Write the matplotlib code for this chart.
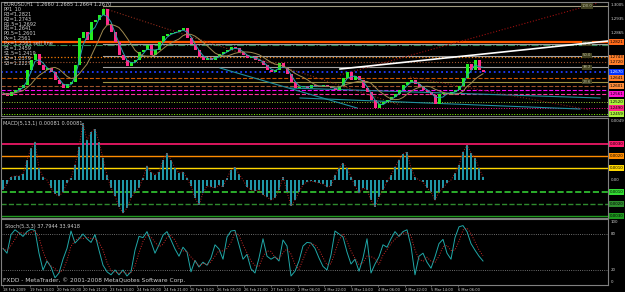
import matplotlib
matplotlib.use("Agg")
import matplotlib.pyplot as plt
import numpy as np
import pandas as pd

# ── Data ─────────────────────────────────────────────────────────────────────

CLOSES = [
    1.2565, 1.2550, 1.2570, 1.2580, 1.2590, 1.2605, 1.2680, 1.2730, 1.2760, 1.2705,
    1.2680, 1.2690, 1.2670, 1.2630, 1.2610, 1.2590, 1.2610, 1.2620, 1.2705, 1.2840,
    1.2870, 1.2830, 1.2920, 1.2930, 1.2955, 1.2985, 1.2905, 1.2870, 1.2820, 1.2755,
    1.2730, 1.2700, 1.2720, 1.2730, 1.2770, 1.2780, 1.2805, 1.2755, 1.2780, 1.2820,
    1.2850, 1.2860, 1.2865, 1.2870, 1.2880, 1.2890, 1.2840, 1.2810, 1.2780, 1.2745,
    1.2730, 1.2740, 1.2730, 1.2745, 1.2760, 1.2770, 1.2780, 1.2795, 1.2790, 1.2770,
    1.2755, 1.2740, 1.2745, 1.2730, 1.2725, 1.2705, 1.2680, 1.2670, 1.2680, 1.2715,
    1.2690, 1.2660, 1.2620, 1.2590, 1.2595, 1.2600, 1.2590, 1.2605, 1.2600, 1.2595,
    1.2605, 1.2595, 1.2590, 1.2580, 1.2600, 1.2640, 1.2670, 1.2630, 1.2650, 1.2630,
    1.2590, 1.2570, 1.2530, 1.2490, 1.2510, 1.2520, 1.2530, 1.2545, 1.2560, 1.2580,
    1.2605, 1.2620, 1.2630, 1.2610, 1.2595, 1.2580, 1.2570, 1.2555, 1.2510, 1.2560,
    1.2565, 1.2560, 1.2570, 1.2580, 1.2600, 1.2640, 1.2710, 1.2680, 1.2730, 1.2680,
    1.2670,
]

MACD = [
    -0.00083, -0.00033, 0.00025, 0.00033, 0.00033, 0.00050, 0.00167, 0.00267, 0.00317, 0.00100,
    0.00025, 0.00000, -0.00067, -0.00117, -0.00133, -0.00100, -0.00025, 0.00017, 0.00125, 0.00275,
    0.00475, 0.00333, 0.00400, 0.00425, 0.00317, 0.00183, 0.00042, -0.00067, -0.00133, -0.00225,
    -0.00275, -0.00233, -0.00150, -0.00100, -0.00067, 0.00017, 0.00117, 0.00067, 0.00042, 0.00067,
    0.00167, 0.00225, 0.00167, 0.00100, 0.00058, 0.00067, 0.00017, -0.00050, -0.00150, -0.00208,
    -0.00108, -0.00050, -0.00058, -0.00067, -0.00042, -0.00058, 0.00017, 0.00083, 0.00108, 0.00050,
    0.00000, -0.00058, -0.00083, -0.00092, -0.00083, -0.00125, -0.00142, -0.00167, -0.00150, -0.00083,
    0.00025, -0.00100, -0.00217, -0.00167, -0.00100, -0.00042, -0.00017, -0.00008, -0.00017, -0.00025,
    -0.00033, -0.00058, -0.00050, 0.00042, 0.00100, 0.00142, 0.00100, 0.00025, -0.00050, -0.00108,
    -0.00067, -0.00083, -0.00167, -0.00225, -0.00142, -0.00083, -0.00017, 0.00042, 0.00108, 0.00167,
    0.00217, 0.00233, 0.00100, 0.00025, 0.00000, -0.00017, -0.00067, -0.00100, -0.00167, -0.00100,
    -0.00067, -0.00025, 0.00000, 0.00058, 0.00125, 0.00233, 0.00292, 0.00225, 0.00183, 0.00100,
    0.00025,
]

STOCH = [
    56, 48, 79, 87, 82, 76, 84, 88, 86, 48,
    20, 35, 25, 7, 15, 38, 56, 85, 65, 72,
    80, 72, 66, 79, 53, 28, 17, 12, 20, 12,
    20, 10, 17, 53, 76, 74, 84, 67, 48, 62,
    78, 84, 70, 55, 43, 58, 50, 17, 36, 25,
    33, 28, 40, 62, 55, 38, 75, 85, 86, 62,
    38, 46, 22, 15, 40, 72, 43, 38, 42, 35,
    70, 60, 10, 18, 35, 60, 66, 65, 56, 40,
    26, 20, 45, 85, 80, 75, 50, 30, 38, 18,
    40, 72, 15, 30, 42, 62, 58, 72, 84, 76,
    84, 87, 60, 12, 43, 48, 33, 23, 42, 64,
    71, 48, 38, 74, 92, 94, 84, 64, 53, 43,
    35,
]

TIME_LABELS = [
    "18 Feb 2009", "19 Feb 13:00", "20 Feb 05:00", "20 Feb 21:00", "23 Feb 13:00",
    "24 Feb 05:00", "24 Feb 21:00", "25 Feb 13:00", "26 Feb 05:00", "26 Feb 21:00",
    "27 Feb 13:00", "2 Mar 06:00", "2 Mar 22:00", "3 Mar 14:00", "4 Mar 06:00",
    "4 Mar 22:00", "5 Mar 14:00", "6 Mar 06:00",
]
HOURS_PER_BAR = 2.39
LABEL_STEP_H = 16

PIVOT_TEXT = [
    "EURUSD,H1  1.2660 1.2685 1.2664 1.2670",
    "PP1_10",
    "R3=1.2821",
    "R2=1.2743",
    "R1.5=1.2692",
    "R1=1.2641",
    "P0.5=1.2601",
    "Px=1.2561",
    "Px=1.2561 sell line",
    "S1=1.2459",
    "S1.5=1.2419",
    "S2=1.2379",
    "S3=1.2227",
]

LEVEL_PRICES = [1.2821, 1.2805, 1.2743, 1.2720, 1.2670, 1.2641, 1.2601,
                1.2580, 1.2561, 1.2520, 1.2490, 1.2459]
LEVEL_BOXED = [1.2821, 1.2743, 1.2720, 1.2670, 1.2641, 1.2601, 1.2561,
               1.2520, 1.2490, 1.2459]
PRICE_TICKS = [1.3005, 1.2935, 1.2865]

FIB_HIGH = 1.3000
FIB_LOW = 1.2505
FIB_RATIOS = [1.0, 0.618, 0.5, 0.382, 0.236]
FIB_START = 25

# trend lines: (bar0, price0, bar1, price1)
TL_WHITE = (84.25, 1.2685, 151.25, 1.2825)
TL_RED_DOWN = (25.0, 1.2990, 99.25, 1.2505)
TL_RED_UP = (84.25, 1.2655, 148.75, 1.3015)
TL_RED_DOWN2 = (101.75, 1.2645, 146.75, 1.2480)
TL_TEAL = [(54.25, 1.2690, 88.5, 1.2490),
           (71.75, 1.2590, 149.25, 1.2540),
           (74.25, 1.2540, 144.25, 1.2485)]

MACD_LEVELS = [0.003, 0.002, 0.001, -0.001, -0.002, -0.003]
MACD_TEXT = "MACD(5,13,1) 0.00081 0.00081"
STOCH_TEXT = "Stoch(5,3,3) 37.7944 33.9418"
STOCH_LEVELS = [80, 20]

# ── Layout helpers ───────────────────────────────────────────────────────────

W, H = 625, 292
BG = "black"
GRID = "#808080"
TXT = "#d0d0d0"
FS = 3.6
FS_R = 2.9


def px_axes(fig, x0, y0, x1, y1):
    return fig.add_axes([x0 / W, 1 - y1 / H, (x1 - x0) / W, (y1 - y0) / H])


def style_ax(ax):
    ax.set_facecolor(BG)
    for s in ax.spines.values():
        s.set_color(GRID)
        s.set_linewidth(0.8)
    ax.tick_params(left=False, right=False, labelleft=False, bottom=False,
                   labelbottom=False)


def right_box(ax, y, text, fc, tc="black"):
    ax.text(1.003, y, text, transform=ax.get_yaxis_transform(), fontsize=FS_R,
            color=tc, va="center", ha="left", clip_on=False,
            bbox=dict(boxstyle="square,pad=0.2", fc=fc, ec="none"))


def right_label(ax, y, text):
    ax.text(1.004, y, text, transform=ax.get_yaxis_transform(), fontsize=FS_R,
            color=TXT, va="center", ha="left", clip_on=False)


fig = plt.figure(figsize=(W / 100, H / 100), dpi=100, facecolor=BG)

n = len(CLOSES)
idx = np.arange(n)
XLIM = (-0.5, 151.25)

# ── Price panel ──────────────────────────────────────────────────────────────
ax = px_axes(fig, 1, 2, 608, 116)
style_ax(ax)
ax.set_xlim(*XLIM)
ax.set_ylim(1.2450, 1.3020)

level_styles = [
    ("#ff5a00", "-", 1.6), ("#2e8b57", "-.", 0.8), ("#ff7f00", ":", 0.9),
    ("#a0522d", ":", 0.8), ("#1e3cff", ":", 1.3), ("#cc5500", "--", 0.8),
    ("#a0522d", "--", 0.8), ("#ff00ff", "--", 0.8), ("#ff3399", "--", 0.8),
    ("#9acd32", ":", 0.7), ("#ff1493", ":", 0.7), ("#7cfc00", ":", 0.7),
]
for p, (c, ls, lw) in zip(LEVEL_PRICES, level_styles):
    ax.axhline(p, color=c, ls=ls, lw=lw, zorder=1)

fib_colors = ["#a09a80", "#a0a0a0", "#a0a0a0", "#a0a0a0", "#a09040"]
for r, c in zip(FIB_RATIOS, fib_colors):
    lvl = FIB_LOW + r * (FIB_HIGH - FIB_LOW)
    ax.plot([FIB_START, XLIM[1]], [lvl, lvl], color=c, lw=0.8, zorder=1)
    ax.text(146, lvl, f"{r * 100:.1f}", fontsize=FS_R - 0.2, color="#c0c0a0",
            va="center", ha="center",
            bbox=dict(boxstyle="square,pad=0.15", fc="#404020", ec="none"))

for tl in TL_TEAL:
    ax.plot([tl[0], tl[2]], [tl[1], tl[3]], color="#1f8f9f", lw=0.8, zorder=1)
for tl, c in [(TL_RED_DOWN, "#8b2a1a"), (TL_RED_UP, "#9b1010"),
              (TL_RED_DOWN2, "#7a1a1a")]:
    ax.plot([tl[0], tl[2]], [tl[1], tl[3]], color=c, lw=0.8, ls=":", zorder=1)
ax.plot([TL_WHITE[0], TL_WHITE[2]], [TL_WHITE[1], TL_WHITE[3]],
        color="white", lw=1.2, zorder=4)

closes = np.array(CLOSES)
opens = np.r_[closes[0], closes[:-1]]
up = closes >= opens
body_lo = np.minimum(opens, closes)
body_h = np.maximum(np.abs(closes - opens), 0.00012)
ax.bar(idx, body_h, bottom=body_lo, width=0.75,
       color=np.where(up, "#22ee22", "#ff2a8a"), zorder=3)

s = pd.Series(closes)
ax.plot(idx, s.rolling(3, min_periods=1).mean(), color="#2aa0b0", lw=0.7, zorder=3)
ax.plot(idx, s.rolling(8, min_periods=1).mean(), color="#a08a50", lw=0.7, zorder=3)

for p in PRICE_TICKS:
    right_label(ax, p, f"{p:.4f}")
box_cols = ["#ff6a1a", "#ff7f2a", "#ff7f2a", "#0033ff", "#ff7f2a", "#ff8c3a",
            "#ff10d0", "#aaf03a", "#ff2288", "#aaf03a"]
for p, c in zip(LEVEL_BOXED, box_cols):
    right_box(ax, p, f"{p:.4f}", c, "white" if c == "#0033ff" else "black")

for k, line in enumerate(PIVOT_TEXT):
    fig.text(4 / W, 1 - (4.5 + k * 4.9) / H, line, fontsize=FS, color=TXT,
             va="center", ha="left")

# ── MACD panel ───────────────────────────────────────────────────────────────
ax2 = px_axes(fig, 1, 118, 608, 218)
style_ax(ax2)
ax2.set_xlim(*XLIM)
ax2.set_ylim(-0.003167, 0.005167)
level_styles2 = [("#ff1a6e", "-", 1.2), ("#ff8c00", "-", 1.0), ("#ffd700", "-", 1.0),
                 ("#33cc33", "--", 1.2), ("#2e8b2e", "--", 1.0), ("#1f9a1f", "-", 1.0)]
for v, (c, ls, lw) in zip(MACD_LEVELS, level_styles2):
    ax2.axhline(v, color=c, ls=ls, lw=lw, zorder=1)
ax2.bar(idx, MACD, width=0.5, color="#1f96a6", zorder=2)
ax2.plot(idx, MACD, color="#b02020", lw=0.7, ls=":", zorder=3)
ax2.text(0.004, 0.97, MACD_TEXT, transform=ax2.transAxes, fontsize=FS,
         color=TXT, va="top", ha="left")
right_label(ax2, 0.00492, "0.0049")
right_label(ax2, 0.0, "0.00")
box2 = ["#ff1a6e", "#ff8c00", "#ffd700", "#33dd33", "#2e8b2e", "#1f9a1f"]
for v, c in zip(MACD_LEVELS, box2):
    right_box(ax2, v, f"{abs(v):.4f}", c)

# ── Stochastic panel ─────────────────────────────────────────────────────────
ax3 = px_axes(fig, 1, 219, 608, 285)
style_ax(ax3)
ax3.set_xlim(*XLIM)
ax3.set_ylim(-5, 105)
for v in STOCH_LEVELS:
    ax3.axhline(v, color="#909090", ls=":", lw=0.6, zorder=1)
st = pd.Series(STOCH, dtype=float)
ax3.plot(idx, st, color="#20a8a8", lw=0.7, zorder=3)
ax3.plot(idx, st.rolling(3, min_periods=1).mean(), color="#cc2a2a", lw=0.7,
         ls=":", zorder=3)
ax3.text(0.006, 0.93, STOCH_TEXT, transform=ax3.transAxes, fontsize=FS,
         color=TXT, va="top", ha="left")
ax3.text(0.004, 0.03, "FXDD - MetaTrader, \u00a9 2001-2008 MetaQuotes Software Corp.",
         transform=ax3.transAxes, fontsize=FS + 0.6, color=TXT, va="bottom", ha="left")
for v in [100, 80, 20, 0]:
    right_label(ax3, v, str(v))

tick_pos = [k * LABEL_STEP_H / HOURS_PER_BAR for k in range(len(TIME_LABELS))]
ax3.set_xticks(tick_pos)
ax3.set_xticklabels(TIME_LABELS)
ax3.tick_params(bottom=True, labelbottom=True, length=1.5, width=0.5,
                color=GRID, labelsize=2.6, labelcolor=TXT, pad=0.8)
for lab in ax3.get_xticklabels():
    lab.set_ha("left")

fig.savefig("out.png", dpi=100, facecolor=BG)
